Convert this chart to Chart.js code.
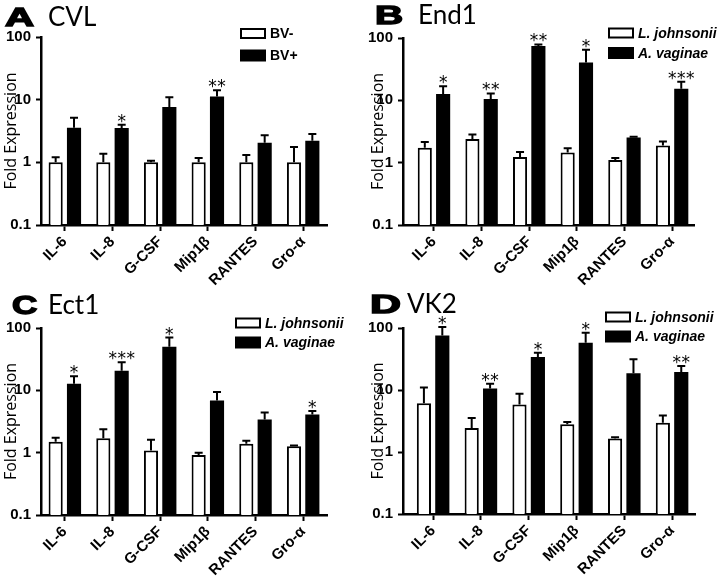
<!DOCTYPE html>
<html><head><meta charset="utf-8">
<script src="https://cdn.jsdelivr.net/npm/chart.js@4.4.1/dist/chart.umd.min.js"></script>
<style>
html,body{margin:0;padding:0;background:#fff;}
#wrap{position:relative;width:721px;height:579px;overflow:hidden;background:#fff;}
canvas{position:absolute;}
</style></head><body>
<div id="wrap">
<canvas id="cA" width="360" height="290" style="left:0;top:0"></canvas>
<canvas id="cB" width="361" height="290" style="left:360px;top:0"></canvas>
<canvas id="cC" width="360" height="289" style="left:0;top:290px"></canvas>
<canvas id="cD" width="361" height="289" style="left:360px;top:290px"></canvas>
</div>
<script>
// ---- data ----
const categories = ['IL-6', 'IL-8', 'G-CSF', 'Mip1β', 'RANTES', 'Gro-α'];
const yTickValues = [0.1, 1, 10, 100];
const yTickLabels = ['0.1', '1', '10', '100'];
const yAxisTitle = 'Fold Expression';

const cvlSeriesLabels = ['BV-', 'BV+'];
const cvlBVneg = [1, 1, 1, 1, 1, 1];
const cvlBVnegSem = [0.2, 0.37, 0.06, 0.17, 0.31, 0.76];
const cvlBVpos = [3.57, 3.53, 7.64, 11.2, 2.06, 2.22];
const cvlBVposSem = [1.59, 0.46, 3.26, 2.9, 0.64, 0.61];
const cvlStars = ['', '*', '', '**', '', ''];

const bacteriaLabels = ['L. johnsonii', 'A. vaginae'];

const end1Lj = [1.73, 2.39, 1.23, 1.46, 1.10, 1.89];
const end1LjSem = [0.41, 0.44, 0.25, 0.25, 0.09, 0.30];
const end1Av = [12.6, 10.5, 74.5, 40.4, 2.54, 15.4];
const end1AvSem = [4.3, 2.4, 4.5, 24.6, 0.06, 4.5];
const end1Stars = ['*', '**', '**', '*', '', '***'];

const ect1Lj = [1.49, 1.71, 1.08, 0.92, 1.39, 1.27];
const ect1LjSem = [0.24, 0.67, 0.53, 0.08, 0.16, 0.03];
const ect1Av = [12.8, 20.6, 49.9, 6.9, 3.4, 4.08];
const ect1AvSem = [4.1, 7.7, 20.4, 2.5, 1.0, 0.59];
const ect1Stars = ['*', '***', '*', '', '', '*'];

const vk2Lj = [6.14, 2.44, 5.84, 2.8, 1.65, 2.97];
const vk2LjSem = [4.86, 1.09, 2.9, 0.25, 0.08, 0.92];
const vk2Av = [75.5, 10.6, 34, 57.6, 18.7, 19.6];
const vk2AvSem = [28.5, 2.0, 6, 26.4, 12.5, 4.8];
const vk2Stars = ['*', '**', '*', '*', '', '**'];

// ---- decoration plugin: error bars, stars, legend, panel title ----
const deco = {
  id: 'deco',
  afterDatasetsDraw(chart, args, o) {
    const ctx = chart.ctx, ys = chart.scales.y;
    ctx.save();
    chart.data.datasets.forEach((ds, di) => {
      const meta = chart.getDatasetMeta(di);
      meta.data.forEach((bar, i) => {
        const top = ys.getPixelForValue(ds.data[i].y + ds.sem[i]);
        ctx.strokeStyle = '#000';
        ctx.lineWidth = 2;
        ctx.beginPath();
        ctx.moveTo(bar.x, bar.y);
        ctx.lineTo(bar.x, top);
        ctx.moveTo(bar.x - 4, top);
        ctx.lineTo(bar.x + 4, top);
        ctx.stroke();
        const s = ds.stars ? ds.stars[i] : '';
        if (s) {
          ctx.fillStyle = '#000';
          ctx.font = '17px "DejaVu Sans"';
          ctx.textAlign = 'center';
          ctx.textBaseline = 'alphabetic';
          const n = s.length, sp = 9;
          for (let k = 0; k < n; k++) {
            ctx.fillText('*', bar.x + (k - (n - 1) / 2) * sp, top + 2);
          }
        }
      });
    });
    ctx.restore();
  },
  afterDraw(chart, args, o) {
    const ctx = chart.ctx;
    ctx.save();
    // legend
    chart.data.datasets.forEach((ds, di) => {
      const cy = o.legendY[di];
      if (di === 0) {
        ctx.fillStyle = '#fff';
        ctx.fillRect(o.legendX, cy - 5.5, 26, 11);
        ctx.strokeStyle = '#000';
        ctx.lineWidth = 2;
        ctx.strokeRect(o.legendX + 1, cy - 4.5, 24, 9);
      } else {
        ctx.fillStyle = '#000';
        ctx.fillRect(o.legendX, cy - 6, 26, 12);
      }
      ctx.fillStyle = '#000';
      ctx.font = (o.italic ? 'italic ' : '') + 'bold 14px "Liberation Sans"';
      ctx.textAlign = 'left';
      ctx.textBaseline = 'middle';
      ctx.fillText(ds.label, o.legendX + o.textGap, cy + 1);
    });
    // panel title
    ctx.fillStyle = '#000';
    ctx.strokeStyle = '#000';
    ctx.textBaseline = 'alphabetic';
    ctx.textAlign = 'left';
    ctx.font = 'bold 26px "Liberation Sans"';
    ctx.save();
    ctx.translate(o.letterX, o.titleBase);
    ctx.scale(o.letterScale, 1);
    ctx.lineWidth = 1.4;
    ctx.fillText(o.letter, 0, 0);
    ctx.strokeText(o.letter, 0, 0);
    ctx.restore();
    ctx.font = '26px Lato';
    ctx.fillText(o.name, o.nameX, o.titleBase);
    ctx.restore();
  }
};

function makeChart(id, p) {
  return new Chart(document.getElementById(id), {
    type: 'bar',
    data: {
      datasets: [
        {label: p.labels[0], data: p.a.map((v, i) => ({x: i, y: v})), sem: p.aSem,
         backgroundColor: '#fff', borderColor: '#000', borderWidth: 2},
        {label: p.labels[1], data: p.b.map((v, i) => ({x: i, y: v})), sem: p.bSem, stars: p.stars,
         backgroundColor: '#000', borderColor: '#000', borderWidth: 0}
      ]
    },
    options: {
      responsive: false,
      animation: false,
      events: [],
      layout: {padding: {left: 0, top: p.top, right: p.right, bottom: 0}},
      datasets: {bar: {categoryPercentage: 0.77, barPercentage: 0.77}},
      plugins: {
        legend: {display: false},
        tooltip: {enabled: false},
        deco: p.deco
      },
      scales: {
        x: {
          type: 'linear', min: p.xmin, max: p.xmax, offset: false,
          afterBuildTicks: s => { s.ticks = categories.map((c, i) => ({value: i})); },
          afterFit: s => { s.height = p.xh; },
          ticks: {autoSkip: false, minRotation: 45, maxRotation: 45, padding: 2, color: '#000',
                  font: {family: '"Liberation Sans", Arial, sans-serif', size: 15, weight: 'bold'},
                  callback: v => categories[v]},
          grid: {drawOnChartArea: false, drawTicks: true, tickLength: 6, tickWidth: 2, color: '#000', offset: false},
          border: {display: true, width: 2.5, color: '#000'}
        },
        y: {
          type: 'logarithmic', min: 0.1, max: 100,
          afterBuildTicks: s => { s.ticks = yTickValues.map(v => ({value: v})); },
          afterFit: s => { s.width = p.yw; },
          ticks: {padding: 5, color: '#000',
                  font: {family: '"Liberation Sans", Arial, sans-serif', size: 15, weight: 'bold'},
                  callback: v => yTickLabels[yTickValues.findIndex(t => Math.abs(t - v) < 1e-9)]},
          grid: {drawOnChartArea: false, drawTicks: true, tickLength: 5, tickWidth: 2, color: '#000'},
          border: {display: true, width: 2.5, color: '#000'},
          title: {display: true, text: yAxisTitle, color: '#000',
                  font: {family: 'Open Sans', size: 16, weight: 'normal'},
                  padding: {top: p.titlePad, bottom: 0}}
        }
      }
    },
    plugins: [deco]
  });
}

makeChart('cA', {labels: cvlSeriesLabels, a: cvlBVneg, aSem: cvlBVnegSem, b: cvlBVpos, bSem: cvlBVposSem, stars: cvlStars,
  top: 37, right: 33, xh: 65, yw: 41, xmin: -0.5, xmax: 5.5, titlePad: 2,
  deco: {legendX: 240, legendY: [33.5, 55.5], textGap: 30, italic: false,
         letter: 'A', name: 'CVL', letterX: 5, nameX: 48, titleBase: 25.5, letterScale: 1.55}});
makeChart('cB', {labels: bacteriaLabels, a: end1Lj, aSem: end1LjSem, b: end1Av, bSem: end1AvSem, stars: end1Stars,
  top: 38, right: 27, xh: 65, yw: 43, xmin: -0.65, xmax: 5.46, titlePad: 9,
  deco: {legendX: 248, legendY: [33, 53], textGap: 30, italic: true,
         letter: 'B', name: 'End1', letterX: 15, nameX: 58, titleBase: 23.5, letterScale: 1.5}});
makeChart('cC', {labels: bacteriaLabels, a: ect1Lj, aSem: ect1LjSem, b: ect1Av, bSem: ect1AvSem, stars: ect1Stars,
  top: 38, right: 33, xh: 64, yw: 41, xmin: -0.5, xmax: 5.5, titlePad: 2,
  deco: {legendX: 235, legendY: [33, 52.5], textGap: 30, italic: true,
         letter: 'C', name: 'Ect1', letterX: 12, nameX: 48, titleBase: 24, letterScale: 1.35}});
makeChart('cD', {labels: bacteriaLabels, a: vk2Lj, aSem: vk2LjSem, b: vk2Av, bSem: vk2AvSem, stars: vk2Stars,
  top: 38, right: 26, xh: 65, yw: 43, xmin: -0.63, xmax: 5.48, titlePad: 8.5,
  deco: {legendX: 245, legendY: [27, 46.5], textGap: 30, italic: true,
         letter: 'D', name: 'VK2', letterX: 10, nameX: 47, titleBase: 23, letterScale: 1.65}});
</script>
</body></html>
